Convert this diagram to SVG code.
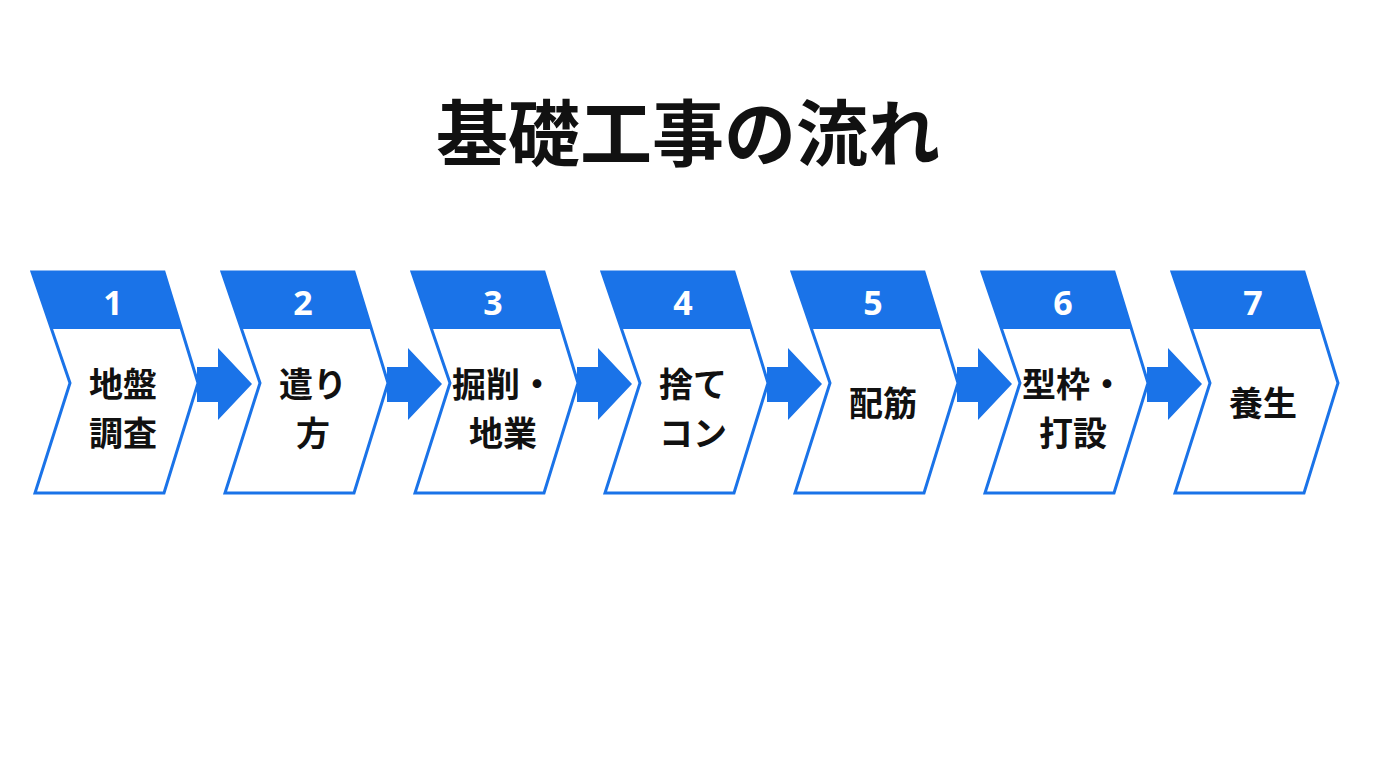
<svg xmlns="http://www.w3.org/2000/svg" width="1376" height="768" viewBox="0 0 1376 768">
<style>
.box{fill:#fff;stroke:#1a73e8;stroke-width:3;stroke-linejoin:miter}
.hd{fill:#1a73e8}
.num{font-family:"Noto Sans","Noto Sans CJK JP",sans-serif;font-weight:bold;font-size:34px;fill:#fff;text-anchor:middle}
.lb{font-family:"Noto Sans CJK JP",sans-serif;font-weight:bold;font-size:34px;fill:#111;text-anchor:middle}
.ar{fill:#1a73e8}
</style>
<defs>
<g id="n">
<path class="box" d="M32,272 L164,272 L198,383 L164,493 L35,493 L70,383 Z"/>
<path class="hd" d="M31,271 L164,271 L182,329 L52,329 Z"/>
</g>
</defs>
<rect width="1376" height="768" fill="#fff"/>
<text x="688" y="160" font-family="Noto Sans CJK JP,sans-serif" font-weight="bold" font-size="72" text-anchor="middle" fill="#111">基礎工事の流れ</text>
<g id="connectors">
<path class="ar" d="M197,367 L218,367 L218,348 L252,384 L218,420 L218,402 L197,402 Z"/>
<path class="ar" transform="translate(190,0)" d="M197,367 L218,367 L218,348 L252,384 L218,420 L218,402 L197,402 Z"/>
<path class="ar" transform="translate(380,0)" d="M197,367 L218,367 L218,348 L252,384 L218,420 L218,402 L197,402 Z"/>
<path class="ar" transform="translate(570,0)" d="M197,367 L218,367 L218,348 L252,384 L218,420 L218,402 L197,402 Z"/>
<path class="ar" transform="translate(760,0)" d="M197,367 L218,367 L218,348 L252,384 L218,420 L218,402 L197,402 Z"/>
<path class="ar" transform="translate(950,0)" d="M197,367 L218,367 L218,348 L252,384 L218,420 L218,402 L197,402 Z"/>
</g>
<g id="node1"><use href="#n"/><text class="num" x="113" y="315">1</text><text class="lb" x="123" y="397">地盤</text><text class="lb" x="123" y="446">調査</text></g>
<g id="node2" transform="translate(190,0)"><use href="#n"/><text class="num" x="113" y="315">2</text><text class="lb" x="123" y="397">遣り</text><text class="lb" x="123" y="446">方</text></g>
<g id="node3" transform="translate(380,0)"><use href="#n"/><text class="num" x="113" y="315">3</text><text class="lb" x="123" y="397">掘削・</text><text class="lb" x="123" y="446">地業</text></g>
<g id="node4" transform="translate(570,0)"><use href="#n"/><text class="num" x="113" y="315">4</text><text class="lb" x="123" y="397">捨て</text><text class="lb" x="123" y="446">コン</text></g>
<g id="node5" transform="translate(760,0)"><use href="#n"/><text class="num" x="113" y="315">5</text><text class="lb" x="123" y="416">配筋</text></g>
<g id="node6" transform="translate(950,0)"><use href="#n"/><text class="num" x="113" y="315">6</text><text class="lb" x="123" y="397">型枠・</text><text class="lb" x="123" y="446">打設</text></g>
<g id="node7" transform="translate(1140,0)"><use href="#n"/><text class="num" x="113" y="315">7</text><text class="lb" x="123" y="416">養生</text></g>
</svg>
